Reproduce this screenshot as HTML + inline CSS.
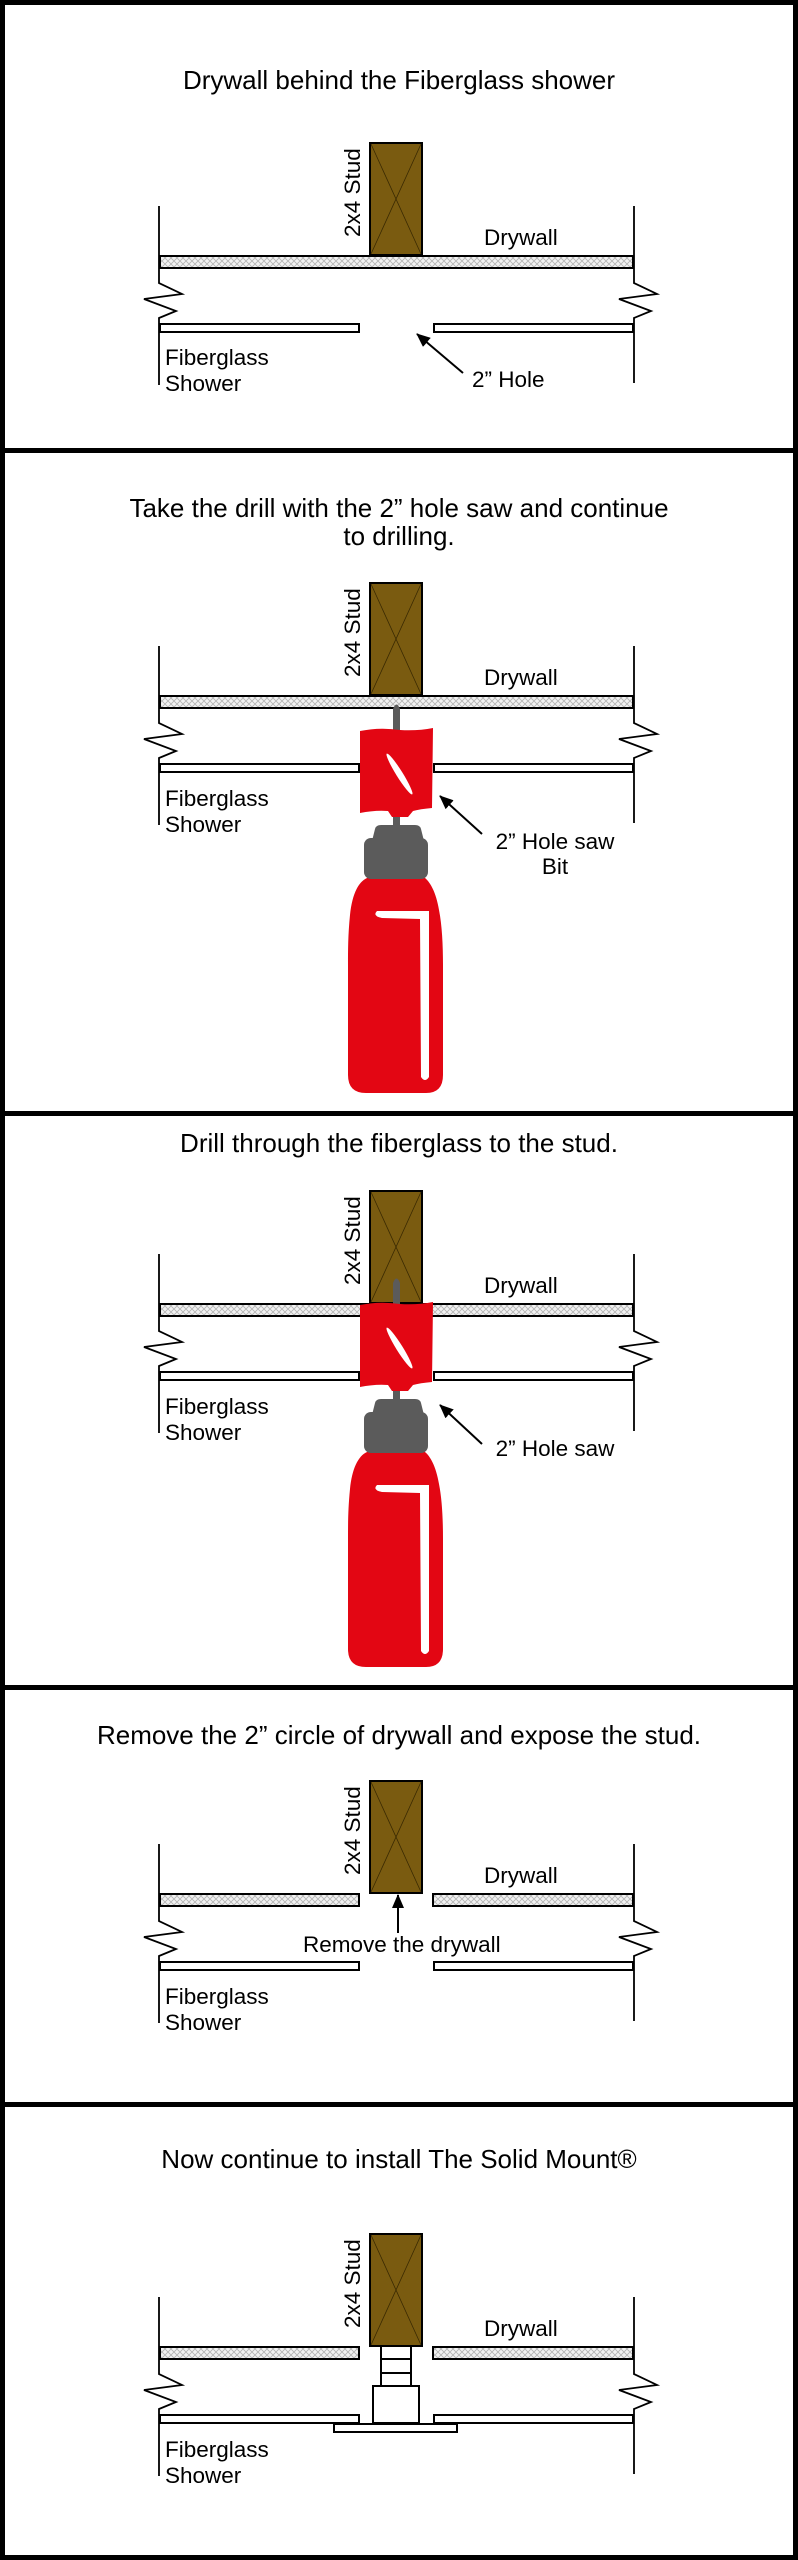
<!DOCTYPE html>
<html>
<head>
<meta charset="utf-8">
<style>
html,body{margin:0;padding:0;background:#fff;}
body{width:798px;height:2560px;overflow:hidden;}
svg{display:block;}
text{font-family:"Liberation Sans",Arial,sans-serif;fill:#000;}
.t{font-size:26px;text-anchor:middle;}
.l{font-size:22.5px;}
</style>
</head>
<body>
<svg width="798" height="2560" viewBox="0 0 798 2560" xmlns="http://www.w3.org/2000/svg">
<defs>
  <pattern id="hatch" width="6" height="6" patternUnits="userSpaceOnUse">
    <rect width="6" height="6" fill="#f2f2f2"/>
    <path d="M0,0 L6,6 M6,0 L0,6" stroke="#b5b5b5" stroke-width="0.9"/>
  </pattern>
  <marker id="ah" markerUnits="userSpaceOnUse" markerWidth="14" markerHeight="12" refX="13" refY="6" orient="auto">
    <path d="M0,0 L14,6 L0,12 Z" fill="#000"/>
  </marker>

  <g id="stud">
    <rect x="370" y="-112" width="52" height="112" fill="#7a5b10" stroke="#000" stroke-width="2"/>
    <path d="M371,-111 L421,-1 M421,-111 L371,-1" stroke="#3a2a02" stroke-width="0.8" fill="none"/>
  </g>

  <g id="frame">
    <!-- verticals with zigzags -->
    <path d="M159,-49 L159,28 L182,39 L144,44 L176,56 L159,63 L159,130" fill="none" stroke="#000" stroke-width="1.8"/>
    <path d="M634,-49 L634,28 L657,39 L619,44 L651,56 L634,63 L634,128" fill="none" stroke="#000" stroke-width="1.8"/>
  </g>

  <g id="dwfull">
    <rect x="160" y="1" width="473" height="12" fill="url(#hatch)" stroke="#000" stroke-width="2"/>
  </g>
  <g id="dwsplit">
    <rect x="160" y="1" width="199" height="12" fill="url(#hatch)" stroke="#000" stroke-width="2"/>
    <rect x="433" y="1" width="200" height="12" fill="url(#hatch)" stroke="#000" stroke-width="2"/>
  </g>
  <g id="bars">
    <rect x="160" y="69" width="199" height="8" fill="#fff" stroke="#000" stroke-width="2"/>
    <rect x="434" y="69" width="199" height="8" fill="#fff" stroke="#000" stroke-width="2"/>
  </g>

  <g id="drill">
    <!-- pilot bit -->
    <path d="M393,731 L393,709 Q396.5,700 400,709 L400,731 Z" fill="#5b5b5b"/>
    <!-- neck rod -->
    <rect x="393" y="812" width="7" height="17" fill="#5b5b5b"/>
    <!-- hole saw -->
    <path d="M360,731 Q380,727 400,730 Q418,731 433,728 L432,808 Q420,809 413,811 L408,817 L392,817 L388,811 Q375,810 360,813 Z" fill="#e30613"/>
    <ellipse cx="399.5" cy="774" rx="24" ry="3.2" transform="rotate(58 399.5 774)" fill="#fff"/>
    <!-- body -->
    <path d="M367,878 C358,882 352,895 350,915 C348,935 348,950 348,965 L348,1075 Q348,1093 366,1093 L426,1093 Q443,1093 443,1075 L443,965 C443,945 442,925 439,910 C436,892 430,882 425,878 Z" fill="#e30613"/>
    <path d="M377,911 L429,911 L429,1077 Q425,1083 421,1077 L420,919 L382,918 Q372,916 377,911 Z" fill="#fff"/>
    <!-- chuck -->
    <path d="M372,841 L375,829 Q376,825 381,825 L415,825 Q420,825 421,829 L424,841 Z" fill="#5b5b5b"/>
    <rect x="364" y="838" width="64" height="41" rx="7" fill="#5b5b5b"/>
  </g>
</defs>

<!-- outer frame & dividers -->
<rect x="2.5" y="2.5" width="793" height="2555" fill="none" stroke="#000" stroke-width="5"/>
<line x1="0" y1="450.5" x2="798" y2="450.5" stroke="#000" stroke-width="5"/>
<line x1="0" y1="1113.5" x2="798" y2="1113.5" stroke="#000" stroke-width="5"/>
<line x1="0" y1="1687.5" x2="798" y2="1687.5" stroke="#000" stroke-width="5"/>
<line x1="0" y1="2104.5" x2="798" y2="2104.5" stroke="#000" stroke-width="5"/>

<!-- ================= PANEL 1 ================= -->
<text class="t" x="399" y="89">Drywall behind the Fiberglass shower</text>
<g transform="translate(0,255)">
  <use href="#frame"/>
  <use href="#stud"/>
  <use href="#dwfull"/>
  <use href="#bars"/>
  <text class="l" transform="translate(360,-18) rotate(-90)">2x4 Stud</text>
  <text class="l" x="484" y="-10">Drywall</text>
  <text class="l" x="165" y="110">Fiberglass</text>
  <text class="l" x="165" y="136">Shower</text>
</g>
<line x1="463" y1="373" x2="417" y2="334" stroke="#000" stroke-width="2" marker-end="url(#ah)"/>
<text class="l" x="472" y="387">2” Hole</text>

<!-- ================= PANEL 2 ================= -->
<text class="t" x="399" y="517">Take the drill with the 2” hole saw and continue</text>
<text class="t" x="399" y="545">to drilling.</text>
<g transform="translate(0,695)">
  <use href="#frame"/>
  <use href="#stud"/>
  <use href="#dwfull"/>
  <use href="#bars"/>
  <text class="l" transform="translate(360,-18) rotate(-90)">2x4 Stud</text>
  <text class="l" x="484" y="-10">Drywall</text>
  <text class="l" x="165" y="111">Fiberglass</text>
  <text class="l" x="165" y="137">Shower</text>
</g>
<use href="#drill"/>
<line x1="482" y1="834" x2="440" y2="796" stroke="#000" stroke-width="2" marker-end="url(#ah)"/>
<text class="l" x="555" y="849" text-anchor="middle">2” Hole saw</text>
<text class="l" x="555" y="874" text-anchor="middle">Bit</text>

<!-- ================= PANEL 3 ================= -->
<text class="t" x="399" y="1152">Drill through the fiberglass to the stud.</text>
<g transform="translate(0,1303)">
  <use href="#frame"/>
  <use href="#stud"/>
  <use href="#dwfull"/>
  <use href="#bars"/>
  <text class="l" transform="translate(360,-18) rotate(-90)">2x4 Stud</text>
  <text class="l" x="484" y="-10">Drywall</text>
  <text class="l" x="165" y="111">Fiberglass</text>
  <text class="l" x="165" y="137">Shower</text>
</g>
<use href="#drill" transform="translate(0,574)"/>
<line x1="482" y1="1444" x2="440" y2="1405" stroke="#000" stroke-width="2" marker-end="url(#ah)"/>
<text class="l" x="555" y="1456" text-anchor="middle">2” Hole saw</text>

<!-- ================= PANEL 4 ================= -->
<text class="t" x="399" y="1744">Remove the 2” circle of drywall and expose the stud.</text>
<g transform="translate(0,1893)">
  <use href="#frame"/>
  <use href="#stud"/>
  <use href="#dwsplit"/>
  <use href="#bars"/>
  <text class="l" transform="translate(360,-18) rotate(-90)">2x4 Stud</text>
  <text class="l" x="484" y="-10">Drywall</text>
  <text class="l" x="165" y="111">Fiberglass</text>
  <text class="l" x="165" y="137">Shower</text>
</g>
<line x1="398" y1="1933" x2="398" y2="1895" stroke="#000" stroke-width="2" marker-end="url(#ah)"/>
<text class="l" x="303" y="1952">Remove the drywall</text>

<!-- ================= PANEL 5 ================= -->
<text class="t" x="399" y="2168">Now continue to install The Solid Mount®</text>
<g transform="translate(0,2346)">
  <use href="#frame"/>
  <use href="#stud"/>
  <use href="#dwsplit"/>
  <use href="#bars"/>
  <text class="l" transform="translate(360,-18) rotate(-90)">2x4 Stud</text>
  <text class="l" x="484" y="-10">Drywall</text>
  <text class="l" x="165" y="111">Fiberglass</text>
  <text class="l" x="165" y="137">Shower</text>
  <!-- Solid Mount -->
  <path d="M381,0 L381,39 M411,0 L411,39 M381,13 L411,13 M381,27 L411,27" stroke="#000" stroke-width="2" fill="none"/>
  <rect x="373" y="40" width="46" height="37" fill="#fff" stroke="#000" stroke-width="2"/>
  <rect x="334" y="78" width="123" height="8" fill="#fff" stroke="#000" stroke-width="2"/>
</g>
</svg>
</body>
</html>
